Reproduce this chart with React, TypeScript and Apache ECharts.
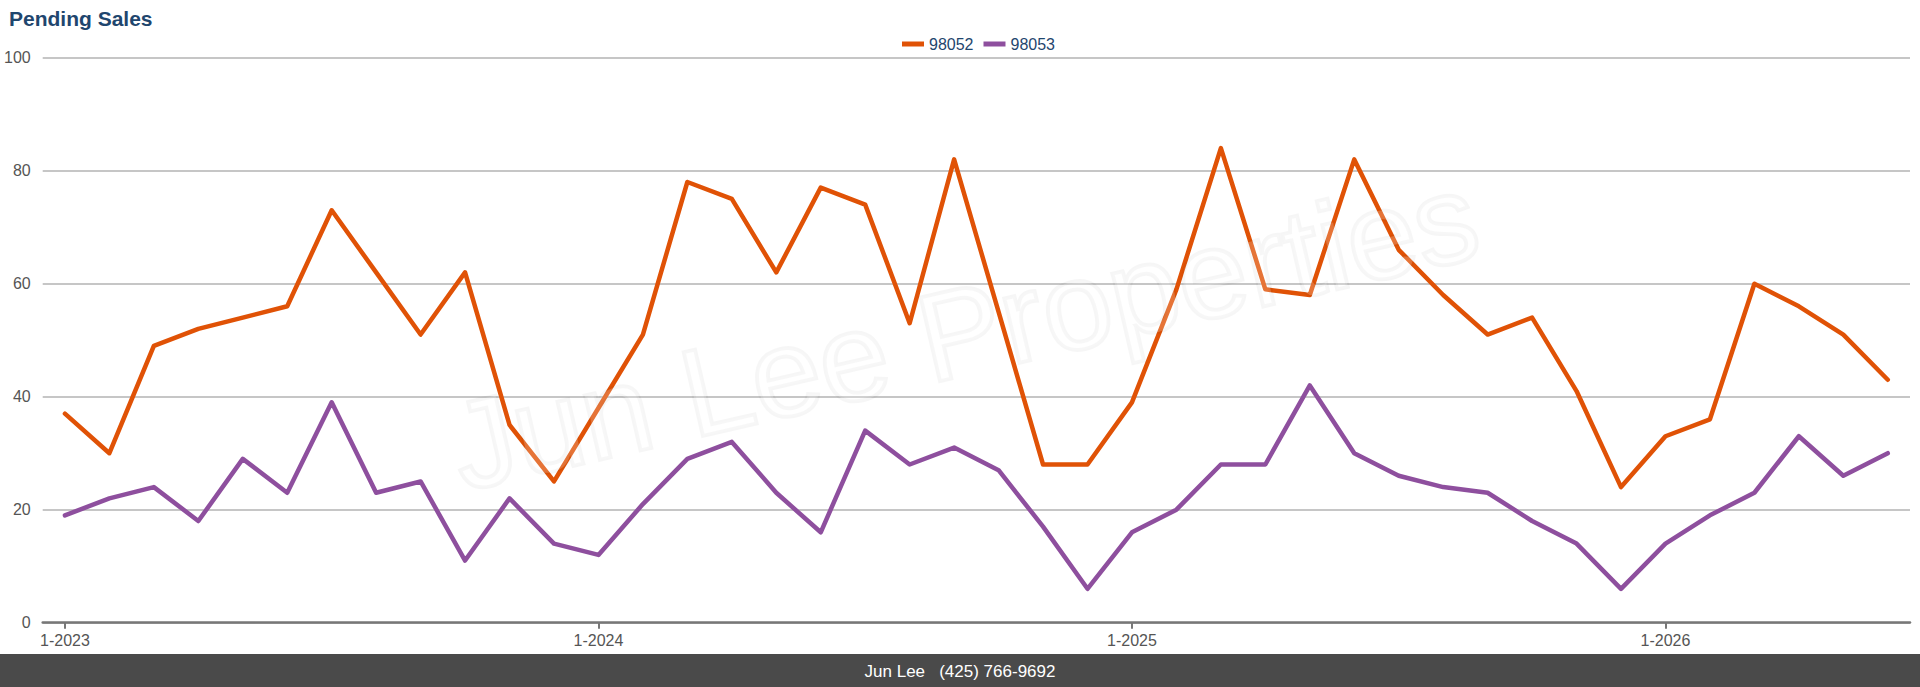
import React, { useEffect, useRef } from "react";
import * as echarts from "echarts";

const TITLE = "Pending Sales";
const SERIES_NAMES = ["98052", "98053"];
const YEARS = [2023, 2024, 2025, 2026];
const MONTHS_IN_LAST_YEAR = 6;
const ZIP_98052 = [
  37, 30, 49, 52, 54, 56, 73, 62, 51, 62, 35, 25,
  38, 51, 78, 75, 62, 77, 74, 53, 82, 55, 28, 28,
  39, 59, 84, 59, 58, 82, 66, 58, 51, 54, 41, 24,
  33, 36, 60, 56, 51, 43,
];
const ZIP_98053 = [
  19, 22, 24, 18, 29, 23, 39, 23, 25, 11, 22, 14,
  12, 21, 29, 32, 23, 16, 34, 28, 31, 27, 17, 6,
  16, 20, 28, 28, 42, 30, 26, 24, 23, 18, 14, 6,
  14, 19, 23, 33, 26, 30,
];
const Y_TICKS = [0, 20, 40, 60, 80, 100];
const FOOTER_TEXT = "Jun Lee   (425) 766-9692";
const WATERMARK = "Jun Lee Properties";

const CATEGORIES: string[] = [];
YEARS.forEach((y, yi) => {
  const n = yi === YEARS.length - 1 ? MONTHS_IN_LAST_YEAR : 12;
  for (let m = 1; m <= n; m++) CATEGORIES.push(`${m}-${y}`);
});

const COLORS = ["#e05206", "#8e4f9e"];

export default function App() {
  const ref = useRef<HTMLDivElement>(null);
  useEffect(() => {
    document.body.style.margin = "0";
    const chart = echarts.init(ref.current!, null, { renderer: "svg" });
    const showYearStart = (i: number) => i % 12 === 0;
    chart.setOption({
      animation: false,
      title: {
        text: TITLE,
        left: 4,
        top: 3,
        textStyle: {
          fontFamily: "Arial, 'Liberation Sans', sans-serif",
          fontSize: 21,
          fontWeight: "bold",
          color: "#1f466e",
        },
      },
      legend: {
        data: SERIES_NAMES,
        left: 897,
        top: 31,
        icon: "rect",
        itemWidth: 22,
        itemHeight: 5,
        itemGap: 10,
        textStyle: {
          fontFamily: "Arial, 'Liberation Sans', sans-serif",
          fontSize: 16,
          color: "#1f466e",
        },
      },
      grid: { left: 42.7, right: 10, top: 57.7, bottom: 64.3, containLabel: false },
      xAxis: {
        type: "category",
        data: CATEGORIES,
        boundaryGap: true,
        axisLine: { show: true, lineStyle: { color: "#777", width: 2.5 } },
        axisTick: { show: true, alignWithLabel: true, interval: (i: number) => showYearStart(i), length: 6, lineStyle: { color: "#777", width: 2 } },
        axisLabel: {
          interval: (i: number) => showYearStart(i),
          margin: 10,
          fontFamily: "Arial, 'Liberation Sans', sans-serif",
          fontSize: 16,
          color: "#555",
        },
        splitLine: { show: false },
      },
      yAxis: {
        type: "value",
        min: Y_TICKS[0],
        max: Y_TICKS[Y_TICKS.length - 1],
        interval: Y_TICKS[1] - Y_TICKS[0],
        axisLine: { show: false },
        axisTick: { show: false },
        axisLabel: {
          margin: 12,
          fontFamily: "Arial, 'Liberation Sans', sans-serif",
          fontSize: 16,
          color: "#555",
        },
        splitLine: { show: true, lineStyle: { color: "#c6c6c6", width: 1.8 } },
      },
      graphic: [
        {
          type: "text",
          x: 964,
          y: 331,
          rotation: (13 * Math.PI) / 180,
          z: 100,
          silent: true,
          style: {
            text: WATERMARK,
            fontFamily: "Arial, 'Liberation Sans', sans-serif",
            fontSize: 125,
            fill: "rgba(255,255,255,0.2)",
            stroke: "rgba(0,0,0,0.035)",
            lineWidth: 4,
            align: "center",
            verticalAlign: "middle",
          },
        },
        {
          type: "rect",
          shape: { x: 0, y: 654, width: 1920, height: 33 },
          style: { fill: "#4a4a4a" },
          silent: true,
        },
        {
          type: "text",
          x: 960,
          y: 671,
          silent: true,
          style: {
            text: FOOTER_TEXT,
            fontFamily: "Arial, 'Liberation Sans', sans-serif",
            fontSize: 17,
            fill: "#ffffff",
            align: "center",
            verticalAlign: "middle",
          },
        },
      ],
      series: [
        {
          name: SERIES_NAMES[0],
          type: "line",
          data: ZIP_98052,
          showSymbol: false,
          symbol: "none",
          color: COLORS[0],
          lineStyle: { width: 4.5, color: COLORS[0], cap: "round", join: "round" },
          z: 3,
        },
        {
          name: SERIES_NAMES[1],
          type: "line",
          data: ZIP_98053,
          showSymbol: false,
          symbol: "none",
          color: COLORS[1],
          lineStyle: { width: 4.5, color: COLORS[1], cap: "round", join: "round" },
          z: 3,
        },
      ],
    });
    return () => chart.dispose();
  }, []);
  return <div ref={ref} style={{ width: 1920, height: 687 }} />;
}
